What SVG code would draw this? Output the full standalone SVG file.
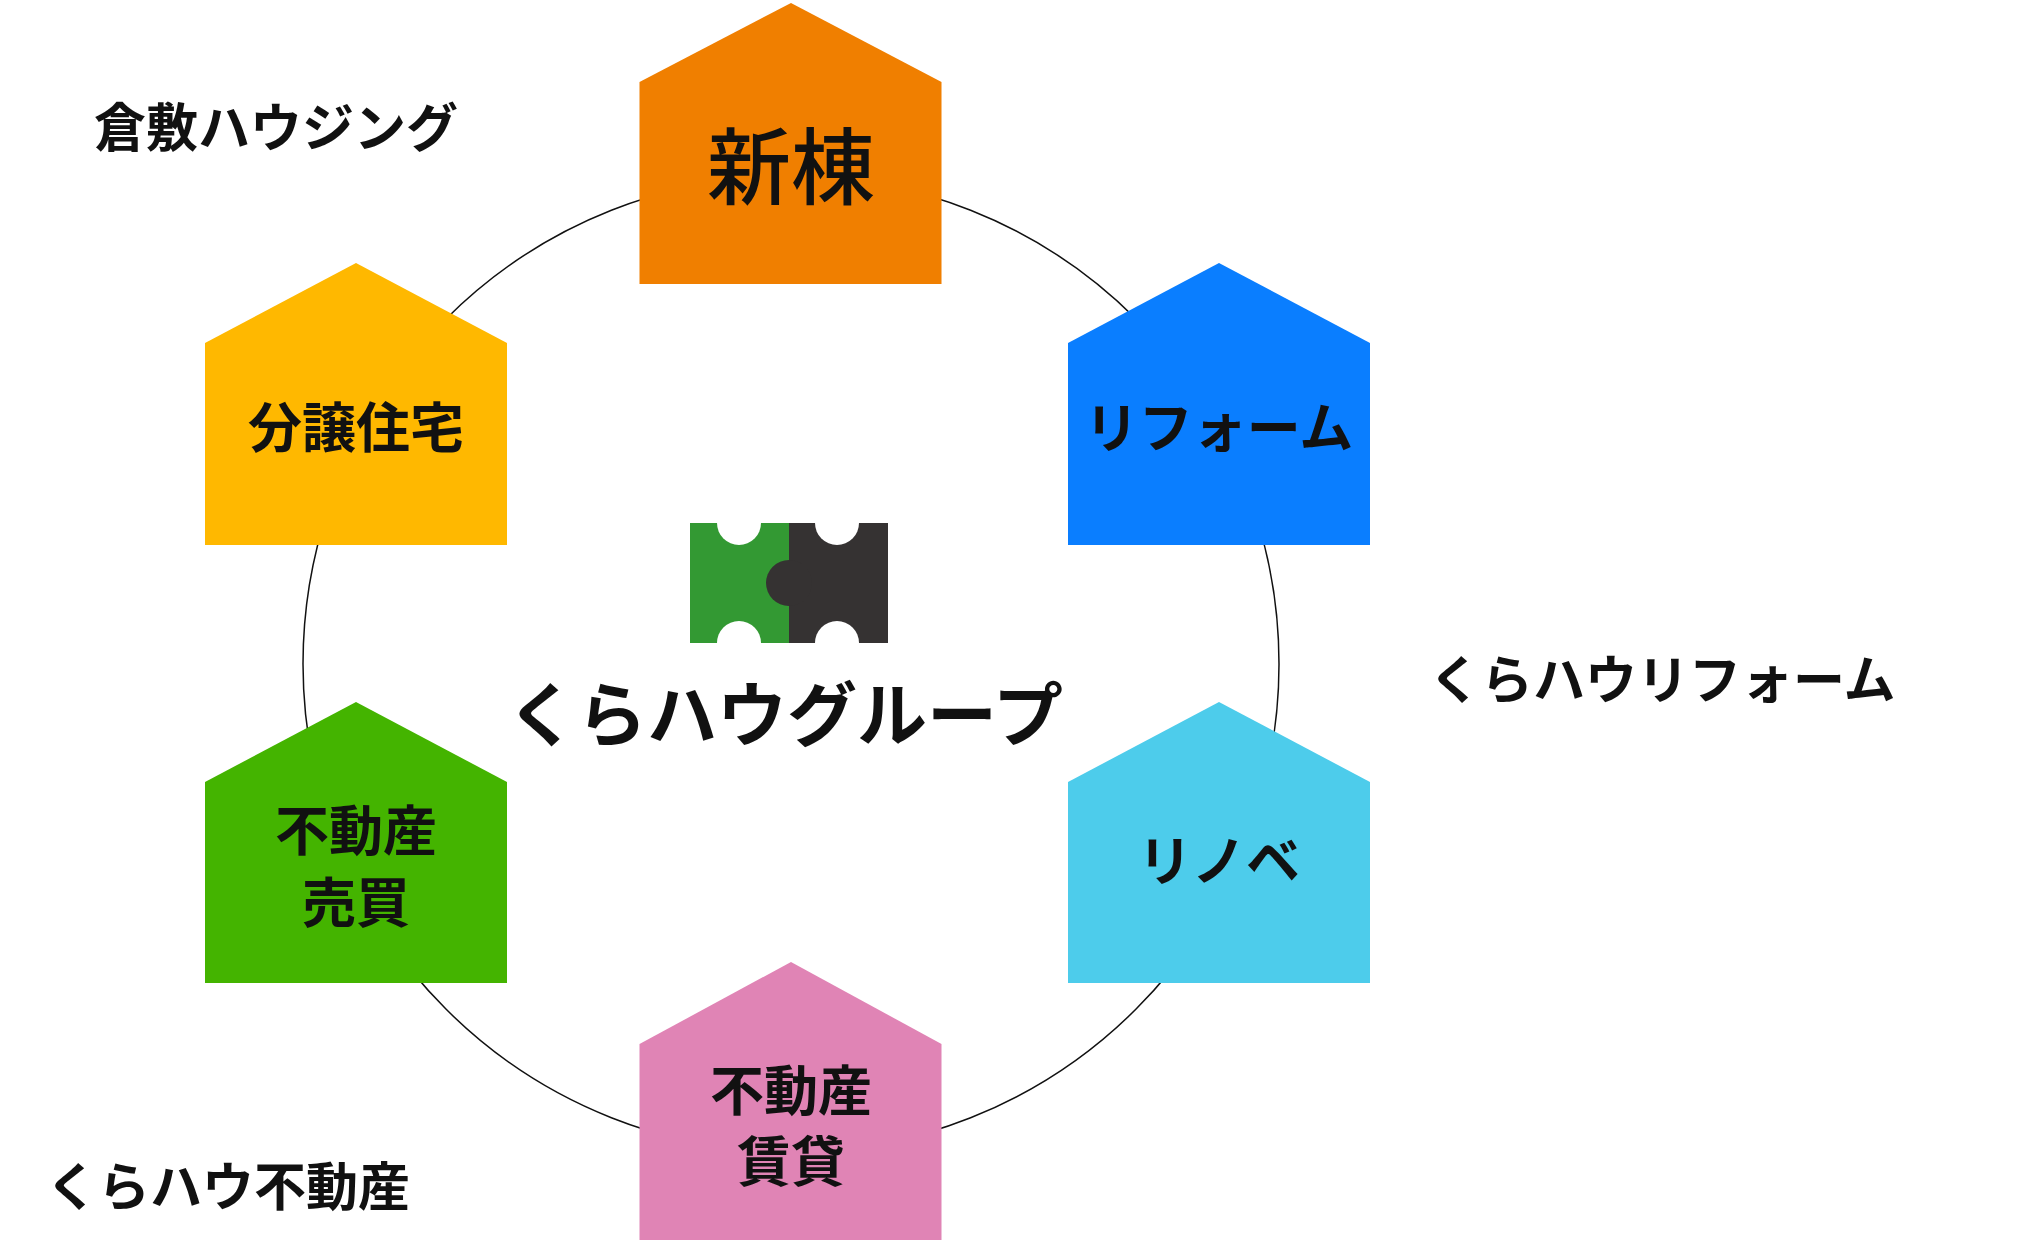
<svg xmlns="http://www.w3.org/2000/svg" width="2040" height="1240" viewBox="0 0 2040 1240">
<style>
text{font-family:"Noto Sans CJK JP",sans-serif;font-weight:bold;fill:#111;text-anchor:middle;dominant-baseline:central}
.h{font-size:54px}
.lbl{font-size:52px;font-weight:bold;text-anchor:start}
</style>
<rect width="2040" height="1240" fill="#fff"/>
<g id="connectors"><circle cx="791" cy="664" r="488" fill="none" stroke="#111" stroke-width="1.5"/></g>
<g id="shinto"><path d="M639.5 82 L791 3 L941.5 82 V284 H639.5 Z" fill="#F07F00"/><text x="791" y="161" style="font-size:84px;font-weight:500">新棟</text></g>
<g id="bunjo"><path d="M205 343 L356 263 L507 343 V545 H205 Z" fill="#FFB800"/><text class="h" x="356" y="424">分譲住宅</text></g>
<g id="reform"><path d="M1068 343 L1219 263 L1370 343 V545 H1068 Z" fill="#0A7EFF"/><text class="h" x="1219" y="424">リフォーム</text></g>
<g id="baibai"><path d="M205 782 L356 702 L507 782 V983 H205 Z" fill="#44B400"/><text class="h" x="356" y="827">不動産</text><text class="h" x="356" y="899">売買</text></g>
<g id="renove"><path d="M1068 782 L1219 702 L1370 782 V983 H1068 Z" fill="#4DCCEB"/><text class="h" x="1219" y="857">リノベ</text></g>
<g id="chintai"><path d="M639.5 1044 L791 962 L941.5 1044 V1244 H639.5 Z" fill="#E084B5"/><text class="h" x="791" y="1087">不動産</text><text class="h" x="791" y="1158">賃貸</text></g>
<g id="center">
<rect x="690" y="523" width="99" height="120" fill="#339933"/>
<rect x="789" y="523" width="99" height="120" fill="#353232"/>
<circle cx="789" cy="583" r="23" fill="#353232"/>
<circle cx="739" cy="523" r="22" fill="#fff"/><circle cx="837" cy="523" r="22" fill="#fff"/>
<circle cx="739" cy="643" r="22" fill="#fff"/><circle cx="837" cy="643" r="22" fill="#fff"/>
<text x="785" y="710" style="font-size:70px">くらハウグループ</text>
</g>
<g id="labels">
<text class="lbl" x="94" y="124">倉敷ハウジング</text>
<text class="lbl" x="1429" y="676">くらハウリフォーム</text>
<text class="lbl" x="46" y="1183">くらハウ不動産</text>
</g>
</svg>
